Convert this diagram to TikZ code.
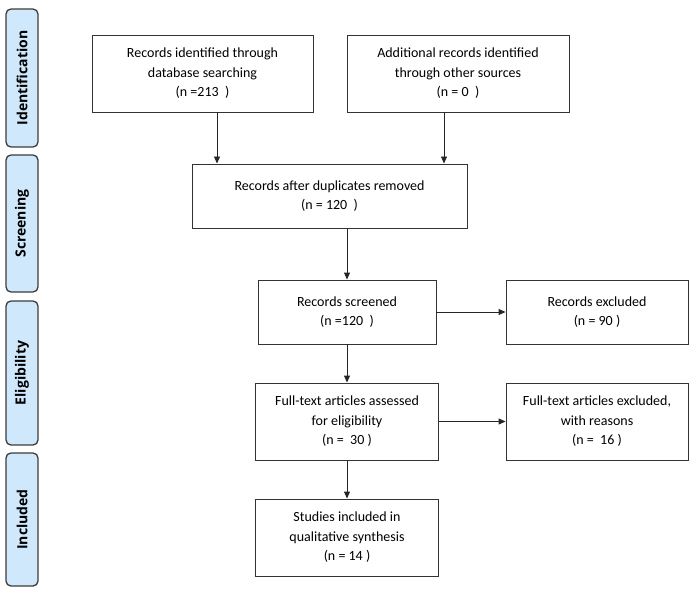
\documentclass[tikz,border=0pt]{standalone}
\usepackage{fontspec}
\setmainfont{Carlito}
\newfontfamily\barfont{Open Sans}
\usetikzlibrary{arrows.meta}
\definecolor{barfill}{RGB}{207,232,252}
\definecolor{barline}{RGB}{60,60,60}
\tikzset{
  box/.style={draw=black!80, line width=0.9bp, fill=white, align=center, inner sep=2bp,
    font=\fontsize{14bp}{19.5bp}\selectfont},
  bar/.style={draw=barline, line width=1.3bp, fill=barfill, rounded corners=5bp},
  barlabel/.style={rotate=90, font=\barfont\bfseries\fontsize{14bp}{16bp}\selectfont},
  conn/.style={draw=black!85, line width=0.9bp, -{Triangle[length=7bp,width=6bp]}}
}
\begin{document}
\begin{tikzpicture}[x=1bp,y=-1bp]
\useasboundingbox (0,0) rectangle (698,593);
% stage bars
\draw[bar] (6,9) rectangle (38,147);
\node[barlabel] (lid) at (22,78) {Identification};
\draw[bar] (6,155) rectangle (38,292);
\node[barlabel] (lsc) at (22,223.5) {Screening};
\draw[bar] (6,301) rectangle (38,445);
\node[barlabel] (lel) at (22,373) {Eligibility};
\draw[bar] (6,453) rectangle (38,586);
\node[barlabel] (lin) at (22,519.5) {Included};
% boxes
\node[box, minimum width=221bp, minimum height=77bp] (b1) at (202.5,73.5)
  {Records identified through\\database searching\\(n =213 \ )};
\node[box, minimum width=222bp, minimum height=77bp] (b2) at (458,73.5)
  {Additional records identified\\through other sources\\(n = 0 \ )};
\node[box, minimum width=275bp, minimum height=64bp] (b3) at (329.5,196)
  {Records after duplicates removed\\(n = 120 \ )};
\node[box, minimum width=178bp, minimum height=64bp] (b4) at (347,312)
  {Records screened\\(n =120 \ )};
\node[box, minimum width=182bp, minimum height=64bp] (b5) at (597,312)
  {Records excluded\\(n = 90 )};
\node[box, minimum width=183bp, minimum height=77bp] (b6) at (347,421.5)
  {Full-text articles assessed\\for eligibility\\(n = \ 30 )};
\node[box, minimum width=182bp, minimum height=77bp] (b7) at (597,421.5)
  {Full-text articles excluded,\\with reasons\\(n = \ 16 )};
\node[box, minimum width=183bp, minimum height=77bp] (b8) at (347,537.5)
  {Studies included in\\qualitative synthesis\\(n = 14 )};
% connectors
\draw[conn] (b1.south -| 217,0) -- (b3.north -| 217,0);
\draw[conn] (b2.south -| 444,0) -- (b3.north -| 444,0);
\draw[conn] (b3.south -| b4.north) -- (b4.north);
\draw[conn] (b4.east) -- (b5.west);
\draw[conn] (b4.south) -- (b6.north);
\draw[conn] (b6.east) -- (b7.west);
\draw[conn] (b6.south) -- (b8.north);
\end{tikzpicture}
\end{document}
